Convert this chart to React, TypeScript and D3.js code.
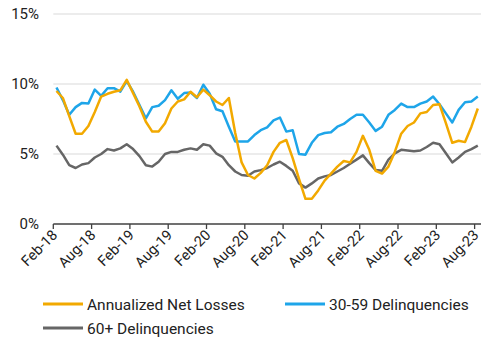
import React from "react";
import * as d3 from "d3";

const months: string[] = (() => {
  const names = ["Jan","Feb","Mar","Apr","May","Jun","Jul","Aug","Sep","Oct","Nov","Dec"];
  const out: string[] = [];
  let m = 1, y = 18;
  for (let i = 0; i < 67; i++) {
    out.push(`${names[m]}-${y}`);
    m++;
    if (m === 12) { m = 0; y++; }
  }
  return out;
})();

const tickLabels = ["Feb-18","Aug-18","Feb-19","Aug-19","Feb-20","Aug-20","Feb-21","Aug-21","Feb-22","Aug-22","Feb-23","Aug-23"];
const yTicks = [0, 5, 10, 15];

const netLosses = [
  9.5, 9.0, 7.7, 6.45, 6.45, 7.0, 8.0, 9.1, 9.3, 9.45, 9.55, 10.3,
  9.35, 8.4, 7.3, 6.6, 6.6, 7.2, 8.25, 8.75, 8.9, 9.45, 9.05, 9.6,
  9.2, 8.75, 8.5, 9.0, 6.5, 4.4, 3.5, 3.25, 3.65, 4.2, 5.15, 5.8,
  6.0, 4.7, 3.2, 1.8, 1.8, 2.4, 3.1, 3.6, 4.1, 4.5, 4.4, 5.15,
  6.3, 5.3, 3.8, 3.6, 4.1, 5.15, 6.45, 7.0, 7.25, 7.9, 8.0, 8.5,
  8.55, 7.2, 5.8, 5.95, 5.85, 6.95, 8.25,
];

const delinq3059 = [
  9.75, 8.85, 7.8, 8.35, 8.65, 8.6, 9.6, 9.15, 9.7, 9.7, 9.45, 10.2,
  9.45, 8.5, 7.55, 8.35, 8.45, 8.85, 9.55, 8.95, 9.35, 9.4, 9.0, 9.95,
  9.3, 8.2, 8.05, 6.95, 5.9, 5.9, 5.9, 6.35, 6.7, 6.9, 7.4, 7.6,
  6.6, 6.7, 5.0, 4.95, 5.8, 6.35, 6.5, 6.55, 6.95, 7.15, 7.5, 7.8,
  7.8, 7.25, 6.65, 6.95, 7.8, 8.15, 8.6, 8.35, 8.35, 8.6, 8.75, 9.1,
  8.55, 7.9, 7.25, 8.15, 8.7, 8.75, 9.1,
];

const delinq60 = [
  5.6, 4.95, 4.2, 4.0, 4.25, 4.35, 4.75, 5.0, 5.35, 5.25, 5.4, 5.7,
  5.35, 4.85, 4.2, 4.1, 4.45, 5.0, 5.15, 5.15, 5.3, 5.4, 5.3, 5.7,
  5.6, 5.05, 4.8, 4.2, 3.75, 3.5, 3.45, 3.75, 3.85, 4.0, 4.25, 4.45,
  4.15, 3.8, 2.9, 2.6, 2.9, 3.25, 3.4, 3.5, 3.75, 4.0, 4.3, 4.6,
  4.9, 4.35, 3.85, 3.8, 4.6, 5.05, 5.3, 5.25, 5.2, 5.25, 5.5, 5.8,
  5.7, 5.05, 4.4, 4.75, 5.15, 5.35, 5.6,
];

const seriesNames = ["Annualized Net Losses", "30-59 Delinquencies", "60+ Delinquencies"];
const seriesColors = ["#F2A900", "#1EA5E9", "#666666"];

const W = 499, H = 346;
const FONT = "Roboto, 'Noto Sans', Arial, sans-serif";

export default function App() {
  const x = d3.scaleBand<string>().domain(months).range([53.3, 481]).paddingInner(0).paddingOuter(0);
  const y = d3.scaleLinear().domain([0, 15]).range([224, 14]);
  const bw = x.bandwidth();
  const cx = (i: number) => (x(months[i]) as number) + bw / 2;
  const line = d3.line<number>().x((_, i) => cx(i)).y((v) => y(v));
  const allSeries = [netLosses, delinq3059, delinq60];
  const drawOrder = [2, 1, 0];

  return (
    <svg width={W} height={H} style={{ position: "absolute", left: 0, top: 0, background: "#fff" }} fontFamily={FONT}>
      {yTicks.filter((t) => t > 0).map((t) => (
        <line key={t} x1={53.3} x2={481} y1={y(t)} y2={y(t)} stroke="#d9d9d9" strokeWidth={1.2} />
      ))}
      {yTicks.map((t) => (
        <text key={t} x={39} y={y(t) + 5} textAnchor="end" fontSize={15} fill="#222">{t}%</text>
      ))}
      {drawOrder.map((k) => (
        <path key={k} d={line(allSeries[k]) as string} fill="none" stroke={seriesColors[k]} strokeWidth={2.5} strokeLinejoin="round" />
      ))}
      <line x1={53.3} x2={481} y1={224} y2={224} stroke="#404040" strokeWidth={1.5} />
      {tickLabels.map((lab) => {
        const tx = x(lab) as number;
        return (
          <g key={lab}>
            <line x1={tx} x2={tx} y1={224} y2={229} stroke="#404040" strokeWidth={1.3} />
            <text transform={`translate(${tx + 5},${236}) rotate(-45)`} textAnchor="end" fontSize={14.5} fill="#222">{lab}</text>
          </g>
        );
      })}
      {[
        { k: 0, lx: 43, ly: 304 },
        { k: 1, lx: 285, ly: 304 },
        { k: 2, lx: 43, ly: 328 },
      ].map(({ k, lx, ly }) => (
        <g key={k}>
          <line x1={lx} x2={lx + 40} y1={ly} y2={ly} stroke={seriesColors[k]} strokeWidth={3} />
          <text x={lx + 44} y={ly + 5.5} fontSize={15.5} fill="#222">{seriesNames[k]}</text>
        </g>
      ))}
    </svg>
  );
}
